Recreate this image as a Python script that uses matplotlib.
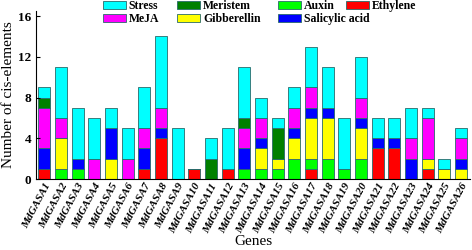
import numpy as np
from matplotlib import pyplot as plt

genes = ["MdGASA%d" % i for i in range(1, 27)]

# counts per gene
ethylene = [1, 0, 0, 0, 0, 0, 1, 4, 0, 1, 0, 1, 0, 0, 0, 0, 1, 0, 0, 0, 3, 3, 0, 1, 0, 0]
auxin = [0, 1, 1, 0, 0, 0, 0, 0, 0, 0, 0, 0, 1, 1, 1, 2, 1, 2, 1, 2, 0, 0, 0, 0, 0, 0]
gibberellin = [0, 3, 0, 0, 2, 0, 0, 0, 0, 0, 0, 0, 0, 2, 1, 2, 4, 4, 0, 3, 0, 0, 0, 1, 1, 1]
salicylic = [2, 0, 1, 0, 3, 0, 2, 1, 0, 0, 0, 0, 2, 1, 0, 1, 1, 1, 0, 1, 1, 1, 2, 0, 0, 1]
meja = [4, 2, 0, 2, 0, 2, 2, 2, 0, 0, 0, 0, 2, 2, 0, 2, 2, 0, 0, 2, 0, 0, 2, 4, 0, 2]
meristem = [1, 0, 0, 0, 0, 0, 0, 0, 0, 0, 2, 0, 1, 0, 3, 0, 0, 0, 0, 0, 0, 0, 0, 0, 0, 0]
stress = [1, 5, 5, 4, 2, 3, 4, 7, 5, 0, 2, 4, 5, 2, 1, 2, 4, 4, 5, 4, 2, 2, 3, 1, 1, 1]

plt.rcParams['font.family'] = ['Liberation Serif', 'DejaVu Serif']
plt.rcParams['font.weight'] = 'bold'

fig = plt.figure(figsize=(4.72, 2.5), dpi=100)
ax = fig.add_axes([0.076, 0.284, 0.92, 0.672])

x = np.arange(len(genes))
layers = [
    ("Ethylene", ethylene, "#ff0000"),
    ("Auxin", auxin, "#00ff00"),
    ("Gibberellin", gibberellin, "#ffff00"),
    ("Salicylic acid", salicylic, "#0000ff"),
    ("MeJA", meja, "#ff00ff"),
    ("Meristem", meristem, "#008000"),
    ("Stress", stress, "#00ffff"),
]
bottom = np.zeros(len(genes))
handles = {}
for name, vals, col in layers:
    vals = np.array(vals)
    b = ax.bar(x, vals, 0.72, bottom=bottom, color=col, edgecolor="#2a6a6a", linewidth=0.6, label=name)
    handles[name] = b
    bottom += vals

leg_kw = dict(frameon=False, fontsize=8.5, handlelength=1.95, handleheight=0.7,
              labelspacing=0.1, handletextpad=0.25, borderpad=0, borderaxespad=0)
order = ["Stress", "MeJA", "Meristem", "Gibberellin", "Auxin", "Salicylic acid"]
leg1 = fig.legend([handles[n] for n in order], order, ncol=3, loc="upper left",
                  bbox_to_anchor=(0.218, 1.0), columnspacing=1.5, **leg_kw)
fig.legend([handles["Ethylene"]], ["Ethylene"], loc="upper left",
           bbox_to_anchor=(0.733, 1.0), **leg_kw)

ax.set_xlim(-0.51, len(genes) - 0.46)
ax.set_ylim(0, 16.5)
ax.set_yticks([0, 4, 8, 12, 16])
ax.set_xticks(x)
ax.set_xticklabels(genes, rotation=62, ha="right", rotation_mode="anchor", fontstyle="italic", fontsize=8)
ax.tick_params(axis="y", direction="in", labelsize=9.5, length=3)
ax.tick_params(axis="x", direction="in", length=0, pad=2)
ax.spines["top"].set_visible(False)
ax.spines["right"].set_visible(False)
ax.set_ylabel("Number of cis-elements", fontsize=11, labelpad=2)
ax.set_xlabel("Genes", fontsize=11, labelpad=0)

fig.savefig("out.png", dpi=100)
